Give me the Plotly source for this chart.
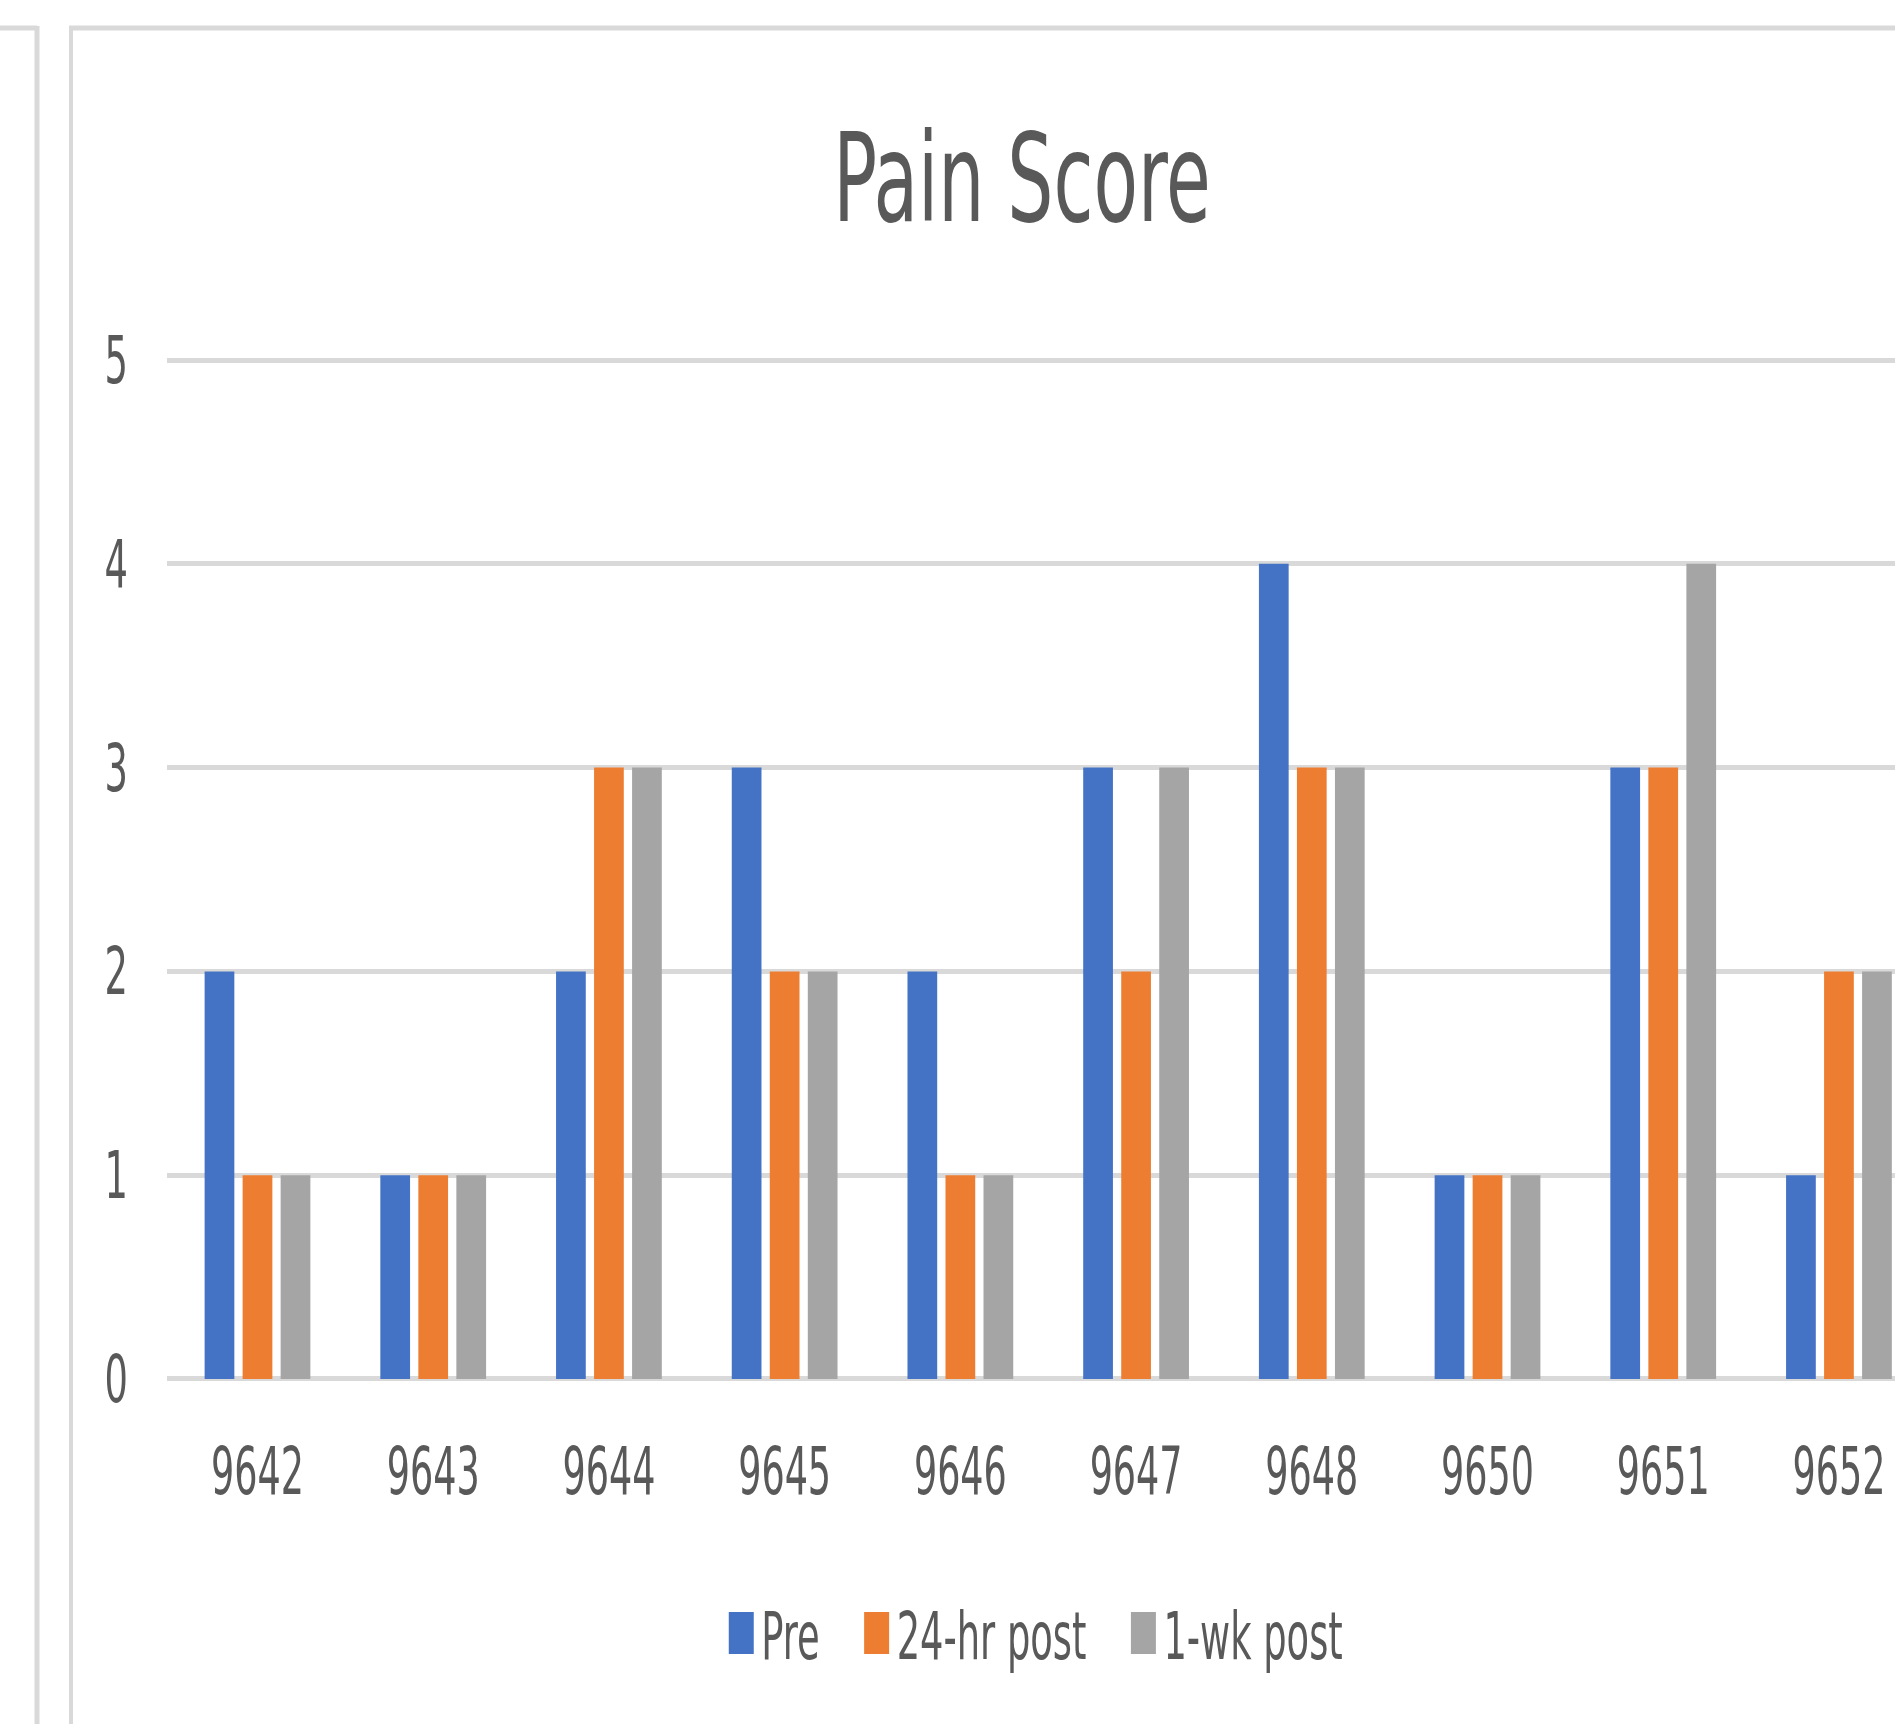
import plotly.graph_objects as go

categories = ["9642", "9643", "9644", "9645", "9646", "9647", "9648", "9650", "9651", "9652"]
pre = [2, 1, 2, 3, 2, 3, 4, 1, 3, 1]
post_24hr = [1, 1, 3, 2, 1, 2, 3, 1, 3, 2]
post_1wk = [1, 1, 3, 2, 1, 3, 3, 1, 4, 2]
series_names = ["Pre", "24-hr post", "1-wk post"]
colors = ["#4472C4", "#ED7D31", "#A5A5A5"]
y_ticks = [0, 1, 2, 3, 4, 5]

W, H = 1895, 1724
L, R, T, B = 167, 0, 356, 341
plot_w = W - L - R
plot_h = H - T - B

FONT = "DejaVu Sans Condensed, DejaVu Sans, sans-serif"
TXT = "#595959"

fig = go.Figure()
for name, vals, col in zip(series_names, [pre, post_24hr, post_1wk], colors):
    fig.add_trace(go.Bar(x=categories, y=vals, name=name, marker=dict(color=col, line=dict(width=0))))


def px_x(px):
    return (px - L) / plot_w


def px_y(py):
    return (H - B - py) / plot_h


frame = "#D9D9D9"
shapes = [
    # left neighbouring chart frame
    dict(type="line", xref="paper", yref="paper", x0=px_x(-5), x1=px_x(37), y0=px_y(28), y1=px_y(28), line=dict(color=frame, width=5)),
    dict(type="line", xref="paper", yref="paper", x0=px_x(37), x1=px_x(37), y0=px_y(26), y1=px_y(1730), line=dict(color=frame, width=5)),
    # main chart frame
    dict(type="line", xref="paper", yref="paper", x0=px_x(69), x1=px_x(1900), y0=px_y(28), y1=px_y(28), line=dict(color=frame, width=5)),
    dict(type="line", xref="paper", yref="paper", x0=px_x(71), x1=px_x(71), y0=px_y(26), y1=px_y(1730), line=dict(color=frame, width=4)),
]

fig.update_layout(
    width=W, height=H,
    margin=dict(l=L, r=R, t=T, b=B, pad=0),
    paper_bgcolor="white", plot_bgcolor="white",
    barmode="group", bargap=0.351, bargroupgap=0.218,
    title=dict(text="Pain Score", x=1022 / W, xanchor="center", xref="container",
               y=1 - 178 / H, yanchor="middle", yref="container",
               font=dict(family=FONT, size=123, color=TXT)),
    xaxis=dict(range=[-0.515, 9.319], showgrid=False, zeroline=False, showline=False,
               tickfont=dict(family=FONT, size=66, color=TXT), ticks="", ticklabelstandoff=44,
               automargin=False, fixedrange=True),
    yaxis=dict(range=[-0.02, 5.02], tickvals=y_ticks, showgrid=True, gridcolor="#D9D9D9", gridwidth=5,
               zeroline=False, showline=False, ticks="", automargin=False,
               tickfont=dict(family=FONT, size=66, color=TXT), ticklabelstandoff=38),
    showlegend=True,
    legend=dict(orientation="h", x=px_x(1032), xanchor="center", y=px_y(1633), yanchor="middle",
                font=dict(family=FONT, size=66, color=TXT), itemwidth=30, traceorder="normal"),
    shapes=shapes,
)

post_js = """
document.body.style.margin = '0';
document.body.style.overflow = 'hidden';
var gd = document.getElementById('{plot_id}');
function squash(sel, f) {
  gd.querySelectorAll(sel).forEach(function (t) {
    if (t.getAttribute('data-squashed')) return;
    var w = t.getComputedTextLength();
    if (w > 0) {
      t.setAttribute('textLength', (w * f).toFixed(2));
      t.setAttribute('lengthAdjust', 'spacingAndGlyphs');
      t.setAttribute('data-squashed', '1');
    }
  });
}
squash('text.gtitle', 0.657);
squash('g.xtick text', 0.615);
squash('g.ytick text', 0.62);

// legend: condensed text, taller swatches, Excel-like spacing
var items = Array.prototype.slice.call(gd.querySelectorAll('g.legend g.traces'));
var widths = [];
items.forEach(function (g) {
  var t = g.querySelector('text.legendtext');
  var w = t.getComputedTextLength() * 0.62;
  t.setAttribute('textLength', w.toFixed(2));
  t.setAttribute('lengthAdjust', 'spacingAndGlyphs');
  widths.push(w);
  g.querySelectorAll('g.legendpoints path').forEach(function (p) {
    p.setAttribute('d', 'M12.5,21H-12.5V-21H12.5Z');
  });
});
var gap = 37, total = 0, xs = [];
for (var i = 0; i < items.length; i++) {
  xs.push(total);
  total += 40 + widths[i] + (i < items.length - 1 ? gap : 0);
}
var lw = gd._fullLayout.legend._width || total;
var off = (lw - total) / 2;
items.forEach(function (g, i) {
  var tr = g.getAttribute('transform') || '';
  var m = /translate\\(\\s*([-0-9.e]+)[ ,]+([-0-9.e]+)\\s*\\)/.exec(tr);
  var y = m ? m[2] : 0;
  g.setAttribute('transform', 'translate(' + (off + xs[i]).toFixed(2) + ',' + y + ')');
});
"""

fig.write_html("out.html", post_script=post_js, config={"displayModeBar": False})
